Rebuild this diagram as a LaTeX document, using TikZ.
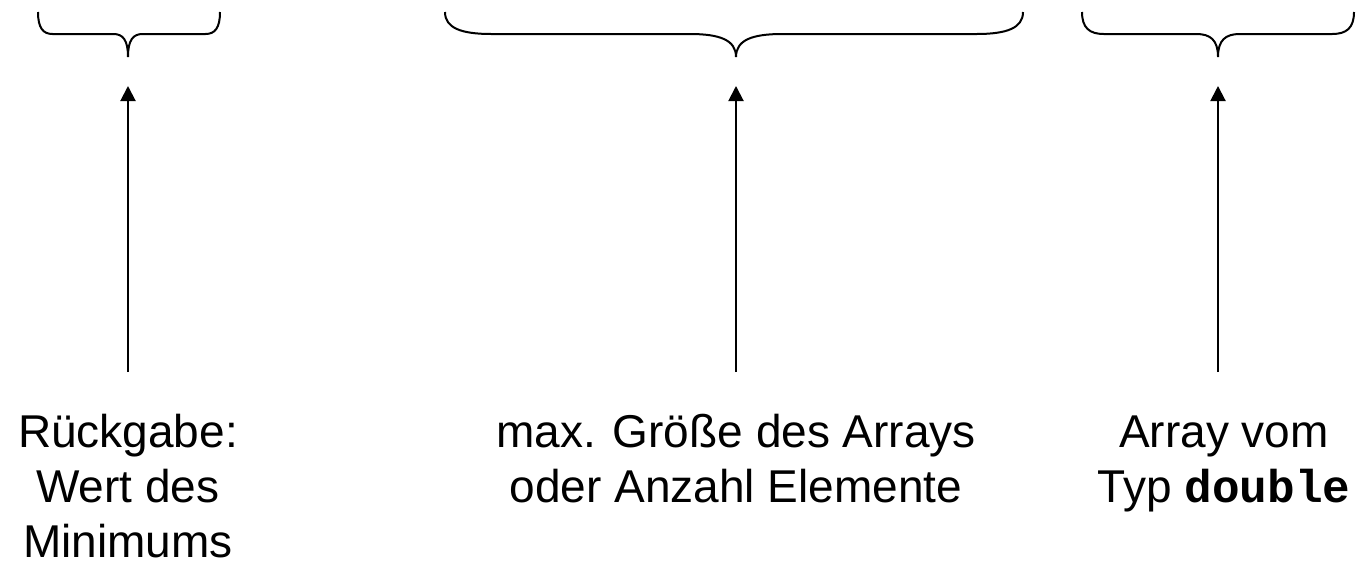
\documentclass[tikz,border=0pt]{standalone}
\usepackage{fontspec}
\setmainfont{Liberation Sans}
\setmonofont{Liberation Mono}
\usetikzlibrary{arrows.meta}

\tikzset{
    labeltext/.style={align=center,inner sep=0pt,anchor=base,font=\fontsize{46}{55}\selectfont},
    uparrow/.style={line width=2pt,-{Triangle[length=15pt,width=15pt]},shorten >=29pt},
    curly/.style={line width=2pt},
}

% curly brace opening downwards: left end, tip, right end
\newcommand{\curlybrace}[3]{%
    \pgfmathsetmacro{\bw}{0.08*(#3-#1)}
    \draw[curly] (#1,12) .. controls (#1,28) and (#1+0.35*\bw,34) .. (#1+\bw,34)
        -- (#2-\bw,34) .. controls (#2-0.35*\bw,34) and (#2,40) .. (#2,57)
        .. controls (#2,40) and (#2+0.35*\bw,34) .. (#2+\bw,34)
        -- (#3-\bw,34) .. controls (#3-0.35*\bw,34) and (#3,28) .. (#3,12);
}

\begin{document}
\begin{tikzpicture}[x=1pt,y=-1pt]
            \useasboundingbox (0,0) rectangle (1359,563);

            \curlybrace{38}{128}{220}
            \curlybrace{445}{736}{1023}
            \curlybrace{1082}{1218}{1354}

            \coordinate (retTip) at (128,57);
            \coordinate (sizeTip) at (736,57);
            \coordinate (arrTip) at (1218,57);
            \coordinate (retFoot) at (128,372);
            \coordinate (sizeFoot) at (736,372);
            \coordinate (arrFoot) at (1218,372);
            \draw[uparrow] (retFoot) -- (retTip);
            \draw[uparrow] (sizeFoot) -- (sizeTip);
            \draw[uparrow] (arrFoot) -- (arrTip);

            % base anchor sits on the last line
            \node (ret) at (128,557) [labeltext] {Rückgabe:\\Wert des\\Minimums};
            \node (size) at (736,502) [labeltext] {max. Größe des Arrays\\oder Anzahl Elemente};
            \node (arr) at (1224,502) [labeltext] {Array vom\\Typ \texttt{\bfseries double}};
        \end{tikzpicture}
\end{document}
